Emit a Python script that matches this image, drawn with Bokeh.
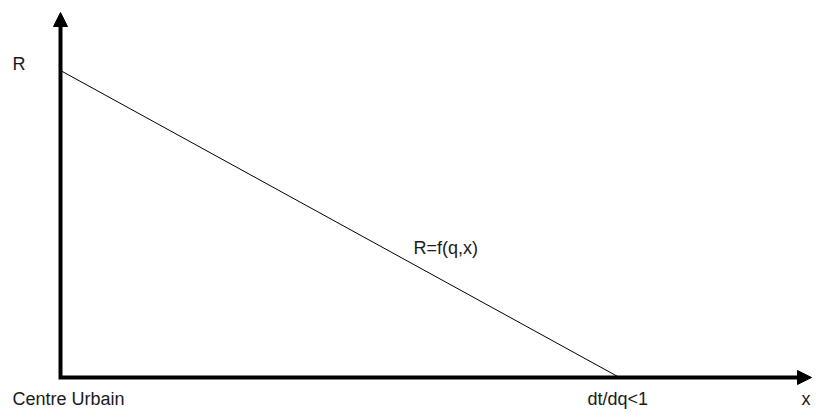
from bokeh.plotting import figure
from bokeh.models import Range1d, Arrow, NormalHead
from bokeh.core.properties import value
from bokeh.embed import file_html
from bokeh.resources import INLINE

# Data (abstract units, origin at axes intersection)
curve_x = [0, 559]          # R=f(q,x): from R-axis intercept to x-axis intercept
curve_y = [307, 0]
axis_x_end = 751            # length of horizontal axis (arrow tip)
axis_y_end = 365            # length of vertical axis (arrow tip)
labels_top = ["R", "R=f(q,x)"]
labels_bottom = ["Centre Urbain", "dt/dq<1", "x"]

p = figure(width=812, height=410, output_backend="svg", toolbar_location=None,
           x_range=Range1d(-60, 752), y_range=Range1d(-33, 377),
           min_border=0, min_border_left=0, min_border_right=0,
           min_border_top=0, min_border_bottom=0)
p.axis.visible = False
p.grid.visible = False
p.outline_line_color = None
p.background_fill_color = "white"
p.border_fill_color = "white"

head = 14
# axes as an L shape
p.line([0, 0, axis_x_end - head], [axis_y_end - head, 0, 0], line_width=4,
       line_color="black", line_join="miter")

for xs, ys, xe, ye in [(0, axis_y_end - head - 2, 0, axis_y_end),
                       (axis_x_end - head - 2, 0, axis_x_end, 0)]:
    p.add_layout(Arrow(end=NormalHead(size=head, fill_color="black", line_color="black", line_width=1),
                       x_start=xs, y_start=ys, x_end=xe, y_end=ye,
                       line_width=4, line_alpha=0))

p.line(curve_x, curve_y, line_width=1, line_color="black")

font = value("Liberation Sans")
p.text(x=[-48, 353], y=[314, 130], text=labels_top, text_font=font, text_font_size="18px",
       text_color="#1a1a1a", text_baseline="alphabetic", text_align="left")
p.text(x=[-48, 527, 741], y=[-31, -31, -31], text=labels_bottom, text_font=font,
       text_font_size="18px", text_color="#1a1a1a", text_baseline="bottom", text_align="left")

open("out.html", "w").write(file_html(p, INLINE))
